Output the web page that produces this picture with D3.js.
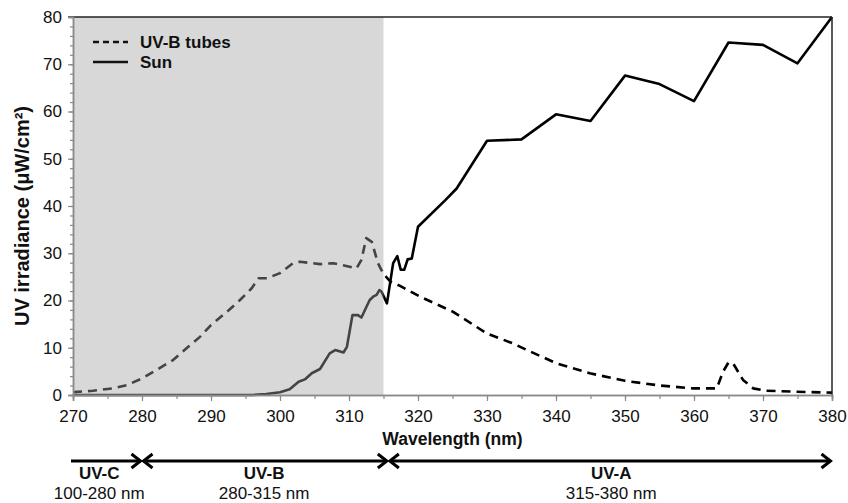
<!DOCTYPE html>
<html>
<head>
<meta charset="utf-8">
<script src="https://cdn.jsdelivr.net/npm/d3@7"></script>
<style>
  html, body { margin: 0; padding: 0; background: #fff; }
  svg { display: block; font-family: "Liberation Sans", Arial, sans-serif; }
</style>
</head>
<body>
<svg id="chart" width="848" height="503"></svg>
<script>
// ---- Data ----
const sunWl = [270, 280, 290, 296, 298, 300, 301.4, 302.7, 303.6, 304.6, 305.8, 307.2, 308, 309.2, 309.7,
  310.5, 311.3, 311.8, 313, 313.5, 314, 314.4, 314.7, 315.5, 316.4, 317, 317.5, 318, 318.5, 319.1, 320,
  324, 325.6, 330, 335, 340, 345, 350, 355, 360, 365, 370, 375, 380];
const sunVal = [0, 0, 0, 0, 0.2, 0.6, 1.2, 2.8, 3.3, 4.6, 5.5, 8.8, 9.5, 9.0, 10.2,
  16.9, 16.9, 16.4, 20.1, 20.8, 21.2, 22.2, 21.9, 19.4, 27.9, 29.4, 26.5, 26.5, 28.7, 28.9, 35.6,
  41.3, 43.7, 53.8, 54.1, 59.4, 58.0, 67.6, 65.8, 62.2, 74.6, 74.1, 70.2, 80];

const tubeWl = [270, 272.9, 275.8, 277.8, 280, 282.1, 284.5, 286.7, 288.4, 290, 292.3, 294.2, 295.9, 296.9,
  298.1, 300, 301.9, 302.9, 305.8, 307.7, 311.1, 311.8, 312.5, 313.3, 314.2, 315, 316, 317.4, 320.3,
  325.1, 330, 333.8, 335.8, 340.1, 344.9, 350, 355.1, 359.9, 363.3, 364.2, 365, 365.7, 367.1, 368.6,
  370.5, 374.9, 380];
const tubeVal = [0.6, 0.9, 1.4, 2.1, 3.5, 5.3, 7.4, 10.2, 12.3, 14.8, 17.6, 20.1, 22.6, 24.7,
  24.7, 25.8, 27.9, 28.2, 27.7, 27.9, 26.8, 28.6, 33.2, 32.4, 27.9, 25.6, 24.0, 23.1, 20.8,
  17.6, 13.0, 10.9, 9.5, 6.7, 4.6, 3.0, 2.0, 1.4, 1.4, 4.9, 6.9, 6.6, 3.2, 1.4,
  0.9, 0.7, 0.5];

const xTicks = [270, 280, 290, 300, 310, 320, 330, 340, 350, 360, 370, 380];
const yTicks = [0, 10, 20, 30, 40, 50, 60, 70, 80];
const seriesNames = ["UV-B tubes", "Sun"];

const uvbShade = [270, 315];
const bandStart = [270, 280, 315.7];
const bandEnd = [280, 315.7, 380];
const bandLeftHead = [false, true, true];
const bandNames = ["UV-C", "UV-B", "UV-A"];
const bandRanges = ["100-280 nm", "280-315 nm", "315-380 nm"];
const bandLabelX = [273.8, 297.7, 348];

// ---- Layout ----
const svg = d3.select("#chart");
const pL = 73, pR = 832, pT = 17, pB = 395;
const x = d3.scaleLinear().domain([270, 380]).range([pL, pR]);
const y = d3.scaleLinear().domain([0, 80]).range([pB, pT]);

const line = d3.line().x(d => x(d[0])).y(d => y(d[1]));
const sunPts = sunWl.map((w, i) => [w, sunVal[i]]);
const tubePts = tubeWl.map((w, i) => [w, tubeVal[i]]);

// series
svg.append("path").datum(tubePts).attr("d", line)
  .attr("fill", "none").attr("stroke", "#000").attr("stroke-width", 2.6)
  .attr("stroke-dasharray", "9,6").attr("stroke-linejoin", "round");
svg.append("path").datum(sunPts).attr("d", line)
  .attr("fill", "none").attr("stroke", "#000").attr("stroke-width", 2.6)
  .attr("stroke-linejoin", "round");

// UV-B shading overlay (semi transparent, above lines)
svg.append("rect")
  .attr("x", x(uvbShade[0])).attr("y", pT)
  .attr("width", x(uvbShade[1]) - x(uvbShade[0])).attr("height", pB - pT)
  .attr("fill", "rgb(163,163,163)").attr("fill-opacity", 0.42);

// frame: top and right dark
svg.append("line").attr("x1", pL - 5).attr("x2", pR).attr("y1", pT).attr("y2", pT)
  .attr("stroke", "#222").attr("stroke-width", 1.5);
svg.append("line").attr("x1", pR).attr("x2", pR).attr("y1", pT).attr("y2", pB)
  .attr("stroke", "#222").attr("stroke-width", 1.5);

// axes
const axisColor = "#8a8a8a";
const gyMinor = svg.append("g").attr("transform", `translate(${pL},0)`)
  .call(d3.axisLeft(y).tickValues(d3.range(0, 81, 2)).tickSize(3).tickFormat(""));
const gy = svg.append("g").attr("transform", `translate(${pL},0)`)
  .call(d3.axisLeft(y).tickValues(yTicks).tickSize(5).tickPadding(6));
const gxMinor = svg.append("g").attr("transform", `translate(0,${pB})`)
  .call(d3.axisBottom(x).tickValues(d3.range(270, 381, 5)).tickSize(4).tickFormat(""));
const gx = svg.append("g").attr("transform", `translate(0,${pB})`)
  .call(d3.axisBottom(x).tickValues(xTicks).tickSize(6).tickPadding(9));

[gyMinor, gy, gxMinor, gx].forEach(g => {
  g.select(".domain").attr("stroke", axisColor).attr("stroke-width", 1.5);
  g.selectAll(".tick line").attr("stroke", axisColor).attr("stroke-width", 1.2);
  g.selectAll("text").attr("fill", "#111").style("font-size", "17px")
    .style("font-family", "'Liberation Sans', Arial, sans-serif");
});

// axis titles
svg.append("text").attr("x", (pL + pR) / 2).attr("y", 445)
  .attr("text-anchor", "middle").style("font-weight", "bold").style("font-size", "17.5px")
  .attr("fill", "#111").text("Wavelength (nm)");
svg.append("text").attr("transform", `translate(29,216) rotate(-90)`)
  .attr("text-anchor", "middle").style("font-weight", "bold").style("font-size", "20px")
  .attr("fill", "#111").text("UV irradiance (μW/cm²)");

// legend
const legY = [42, 62];
const legDash = ["6,4", null];
seriesNames.forEach((name, i) => {
  const l = svg.append("line").attr("x1", 93).attr("x2", 128).attr("y1", legY[i]).attr("y2", legY[i])
    .attr("stroke", "#111").attr("stroke-width", 2.4);
  if (legDash[i]) l.attr("stroke-dasharray", legDash[i]);
  svg.append("text").attr("x", 140).attr("y", legY[i] + 6)
    .style("font-weight", "bold").style("font-size", "17px").attr("fill", "#111").text(name);
});

// UV band arrows
const arrowY = 461;
const hw = 9, hh = 7;
bandStart.forEach((s, i) => {
  const x0 = x(s) + (bandLeftHead[i] ? 1.5 : -2), x1 = x(bandEnd[i]) - 1.5;
  svg.append("line").attr("x1", x0).attr("x2", x1).attr("y1", arrowY).attr("y2", arrowY)
    .attr("stroke", "#000").attr("stroke-width", 3);
  svg.append("path").attr("d", `M${x1 - hw},${arrowY - hh} L${x1},${arrowY} L${x1 - hw},${arrowY + hh}`)
    .attr("fill", "none").attr("stroke", "#000").attr("stroke-width", 3).attr("stroke-linejoin", "miter");
  if (bandLeftHead[i]) {
    svg.append("path").attr("d", `M${x0 + hw},${arrowY - hh} L${x0},${arrowY} L${x0 + hw},${arrowY + hh}`)
      .attr("fill", "none").attr("stroke", "#000").attr("stroke-width", 3).attr("stroke-linejoin", "miter");
  }
  svg.append("text").attr("x", x(bandLabelX[i])).attr("y", 479)
    .attr("text-anchor", "middle").style("font-weight", "bold").style("font-size", "17px")
    .attr("fill", "#111").text(bandNames[i]);
  svg.append("text").attr("x", x(bandLabelX[i])).attr("y", 499)
    .attr("text-anchor", "middle").style("font-size", "17px")
    .attr("fill", "#111").text(bandRanges[i]);
});
</script>
</body>
</html>
